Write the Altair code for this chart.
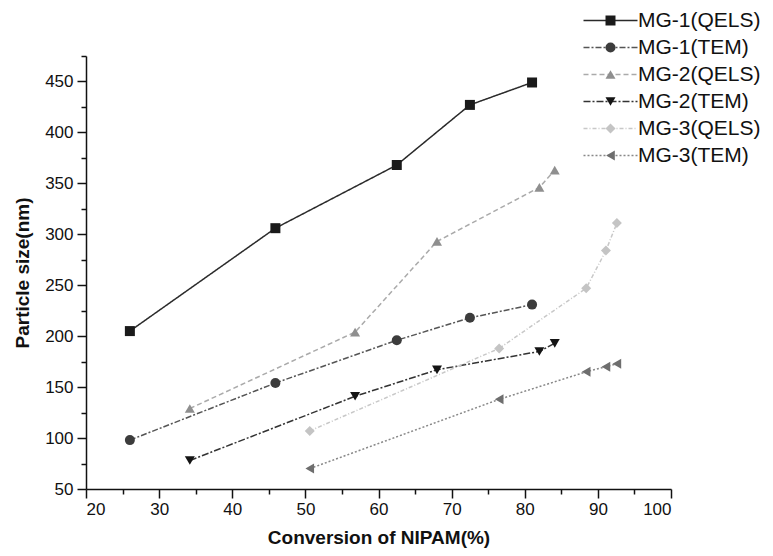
import altair as alt
import pandas as pd

series_names = ["MG-1(QELS)", "MG-1(TEM)", "MG-2(QELS)", "MG-2(TEM)", "MG-3(QELS)", "MG-3(TEM)"]

mg1_x = [26.0, 45.9, 62.5, 72.5, 81.0]
mg1_qels_y = [205, 306, 368, 427, 449]
mg1_tem_y = [98, 154, 196, 218, 231]

mg2_x = [34.2, 56.8, 68.0, 82.0, 84.1]
mg2_qels_y = [129, 204, 293, 346, 363]
mg2_tem_y = [78, 141, 167, 185, 193]

mg3_x = [50.6, 76.5, 88.4, 91.1, 92.6]
mg3_qels_y = [107, 188, 247, 284, 311]
mg3_tem_y = [70, 138, 165, 170, 173]

x_ticks = [20, 30, 40, 50, 60, 70, 80, 90, 100]
y_ticks = [50, 100, 150, 200, 250, 300, 350, 400, 450]
x_minor = [25, 35, 45, 55, 65, 75, 85, 95]
y_minor = [75, 125, 175, 225, 275, 325, 375, 425, 475]

marker_colors = ["#1a1a1a", "#3c3c3c", "#8f8f8f", "#141414", "#c4c4c4", "#6e6e6e"]
line_colors = ["#2a2a2a", "#555555", "#aaaaaa", "#333333", "#c8c8c8", "#888888"]
shapes = ["square", "circle", "triangle-up", "triangle-down", "diamond", "triangle-left"]
dashes = [[1, 0], [6, 2, 2, 2], [5, 3], [7, 2, 2, 2], [4, 2, 1, 2], [2, 2]]

rows = []
for name, xs, ys in [
    (series_names[0], mg1_x, mg1_qels_y),
    (series_names[1], mg1_x, mg1_tem_y),
    (series_names[2], mg2_x, mg2_qels_y),
    (series_names[3], mg2_x, mg2_tem_y),
    (series_names[4], mg3_x, mg3_qels_y),
    (series_names[5], mg3_x, mg3_tem_y),
]:
    for xv, yv in zip(xs, ys):
        rows.append({"series": name, "conv": xv, "size": yv})
df = pd.DataFrame(rows)

FONT = "Liberation Sans"
xscale = alt.Scale(domain=[20, 100], nice=False, zero=False)
yscale = alt.Scale(domain=[50, 475], nice=False, zero=False)

x_main = alt.X("conv:Q", scale=xscale, axis=alt.Axis(
    values=x_ticks, title="Conversion of NIPAM(%)", orient="bottom", grid=False,
    tickSize=9, labelPadding=3, titlePadding=11, format="d"))
y_main = alt.Y("size:Q", scale=yscale, axis=alt.Axis(
    values=y_ticks, title="Particle size(nm)", orient="left", grid=False,
    tickSize=9, labelPadding=4, titlePadding=12, format="d"))

LEG_X = 514
LEG_Y = -46
common_leg = dict(orient="none", legendX=LEG_X, legendY=LEG_Y, direction="vertical",
                  title=None, padding=0, labelFont=FONT, labelFontSize=21,
                  labelColor="#111111", labelOffset=17, rowPadding=5, symbolSize=100)

lines = alt.Chart(df).mark_line(strokeWidth=1.5).encode(
    x=x_main, y=y_main,
    color=alt.Color("series:N", scale=alt.Scale(domain=series_names, range=line_colors),
                    sort=series_names,
                    legend=alt.Legend(symbolType="M-5.4,0L5.4,0", symbolStrokeWidth=1.5, **common_leg)),
    strokeDash=alt.StrokeDash("series:N", scale=alt.Scale(domain=series_names, range=dashes),
                              sort=series_names,
                              legend=alt.Legend(symbolType="M-5.4,0L5.4,0", symbolStrokeWidth=1.5, **common_leg)),
)

points = alt.Chart(df).mark_point(filled=True, size=100, opacity=1).encode(
    x=alt.X("conv:Q", scale=xscale, axis=None),
    y=alt.Y("size:Q", scale=yscale, axis=None),
    color=alt.Color("series:N", scale=alt.Scale(domain=series_names, range=marker_colors),
                    sort=series_names,
                    legend=alt.Legend(labelOpacity=0, symbolStrokeWidth=0, symbolOpacity=1, **common_leg)),
    shape=alt.Shape("series:N", scale=alt.Scale(domain=series_names, range=shapes),
                    sort=series_names,
                    legend=alt.Legend(labelOpacity=0, symbolStrokeWidth=0, symbolOpacity=1, **common_leg)),
)

minor = alt.Chart(df).mark_point(opacity=0).encode(
    x=alt.X("conv:Q", scale=xscale, axis=alt.Axis(values=x_minor, labels=False, title=None,
                                                   tickSize=5, domain=False, orient="bottom", grid=False)),
    y=alt.Y("size:Q", scale=yscale, axis=alt.Axis(values=y_minor, labels=False, title=None,
                                                   tickSize=5, domain=False, orient="left", grid=False)),
)

chart = alt.layer(lines, points, minor).resolve_scale(
    color="independent", shape="independent", strokeDash="independent"
).resolve_legend(
    color="independent", shape="independent", strokeDash="independent"
).resolve_axis(
    x="independent", y="independent"
).properties(
    width=585, height=433,
    autosize=alt.AutoSizeParams(type="none"),
    padding={"left": 78, "top": 48, "right": 94, "bottom": 59},
).configure_view(strokeWidth=0).configure_axis(
    domainColor="#111111", tickColor="#111111", labelColor="#111111", titleColor="#111111",
    domainWidth=1.5, tickWidth=1.5, labelFont=FONT, labelFontSize=17,
    titleFont=FONT, titleFontSize=19, titleFontWeight="bold",
)

chart.save("out.html", embed_options={"renderer": "svg", "actions": False})
